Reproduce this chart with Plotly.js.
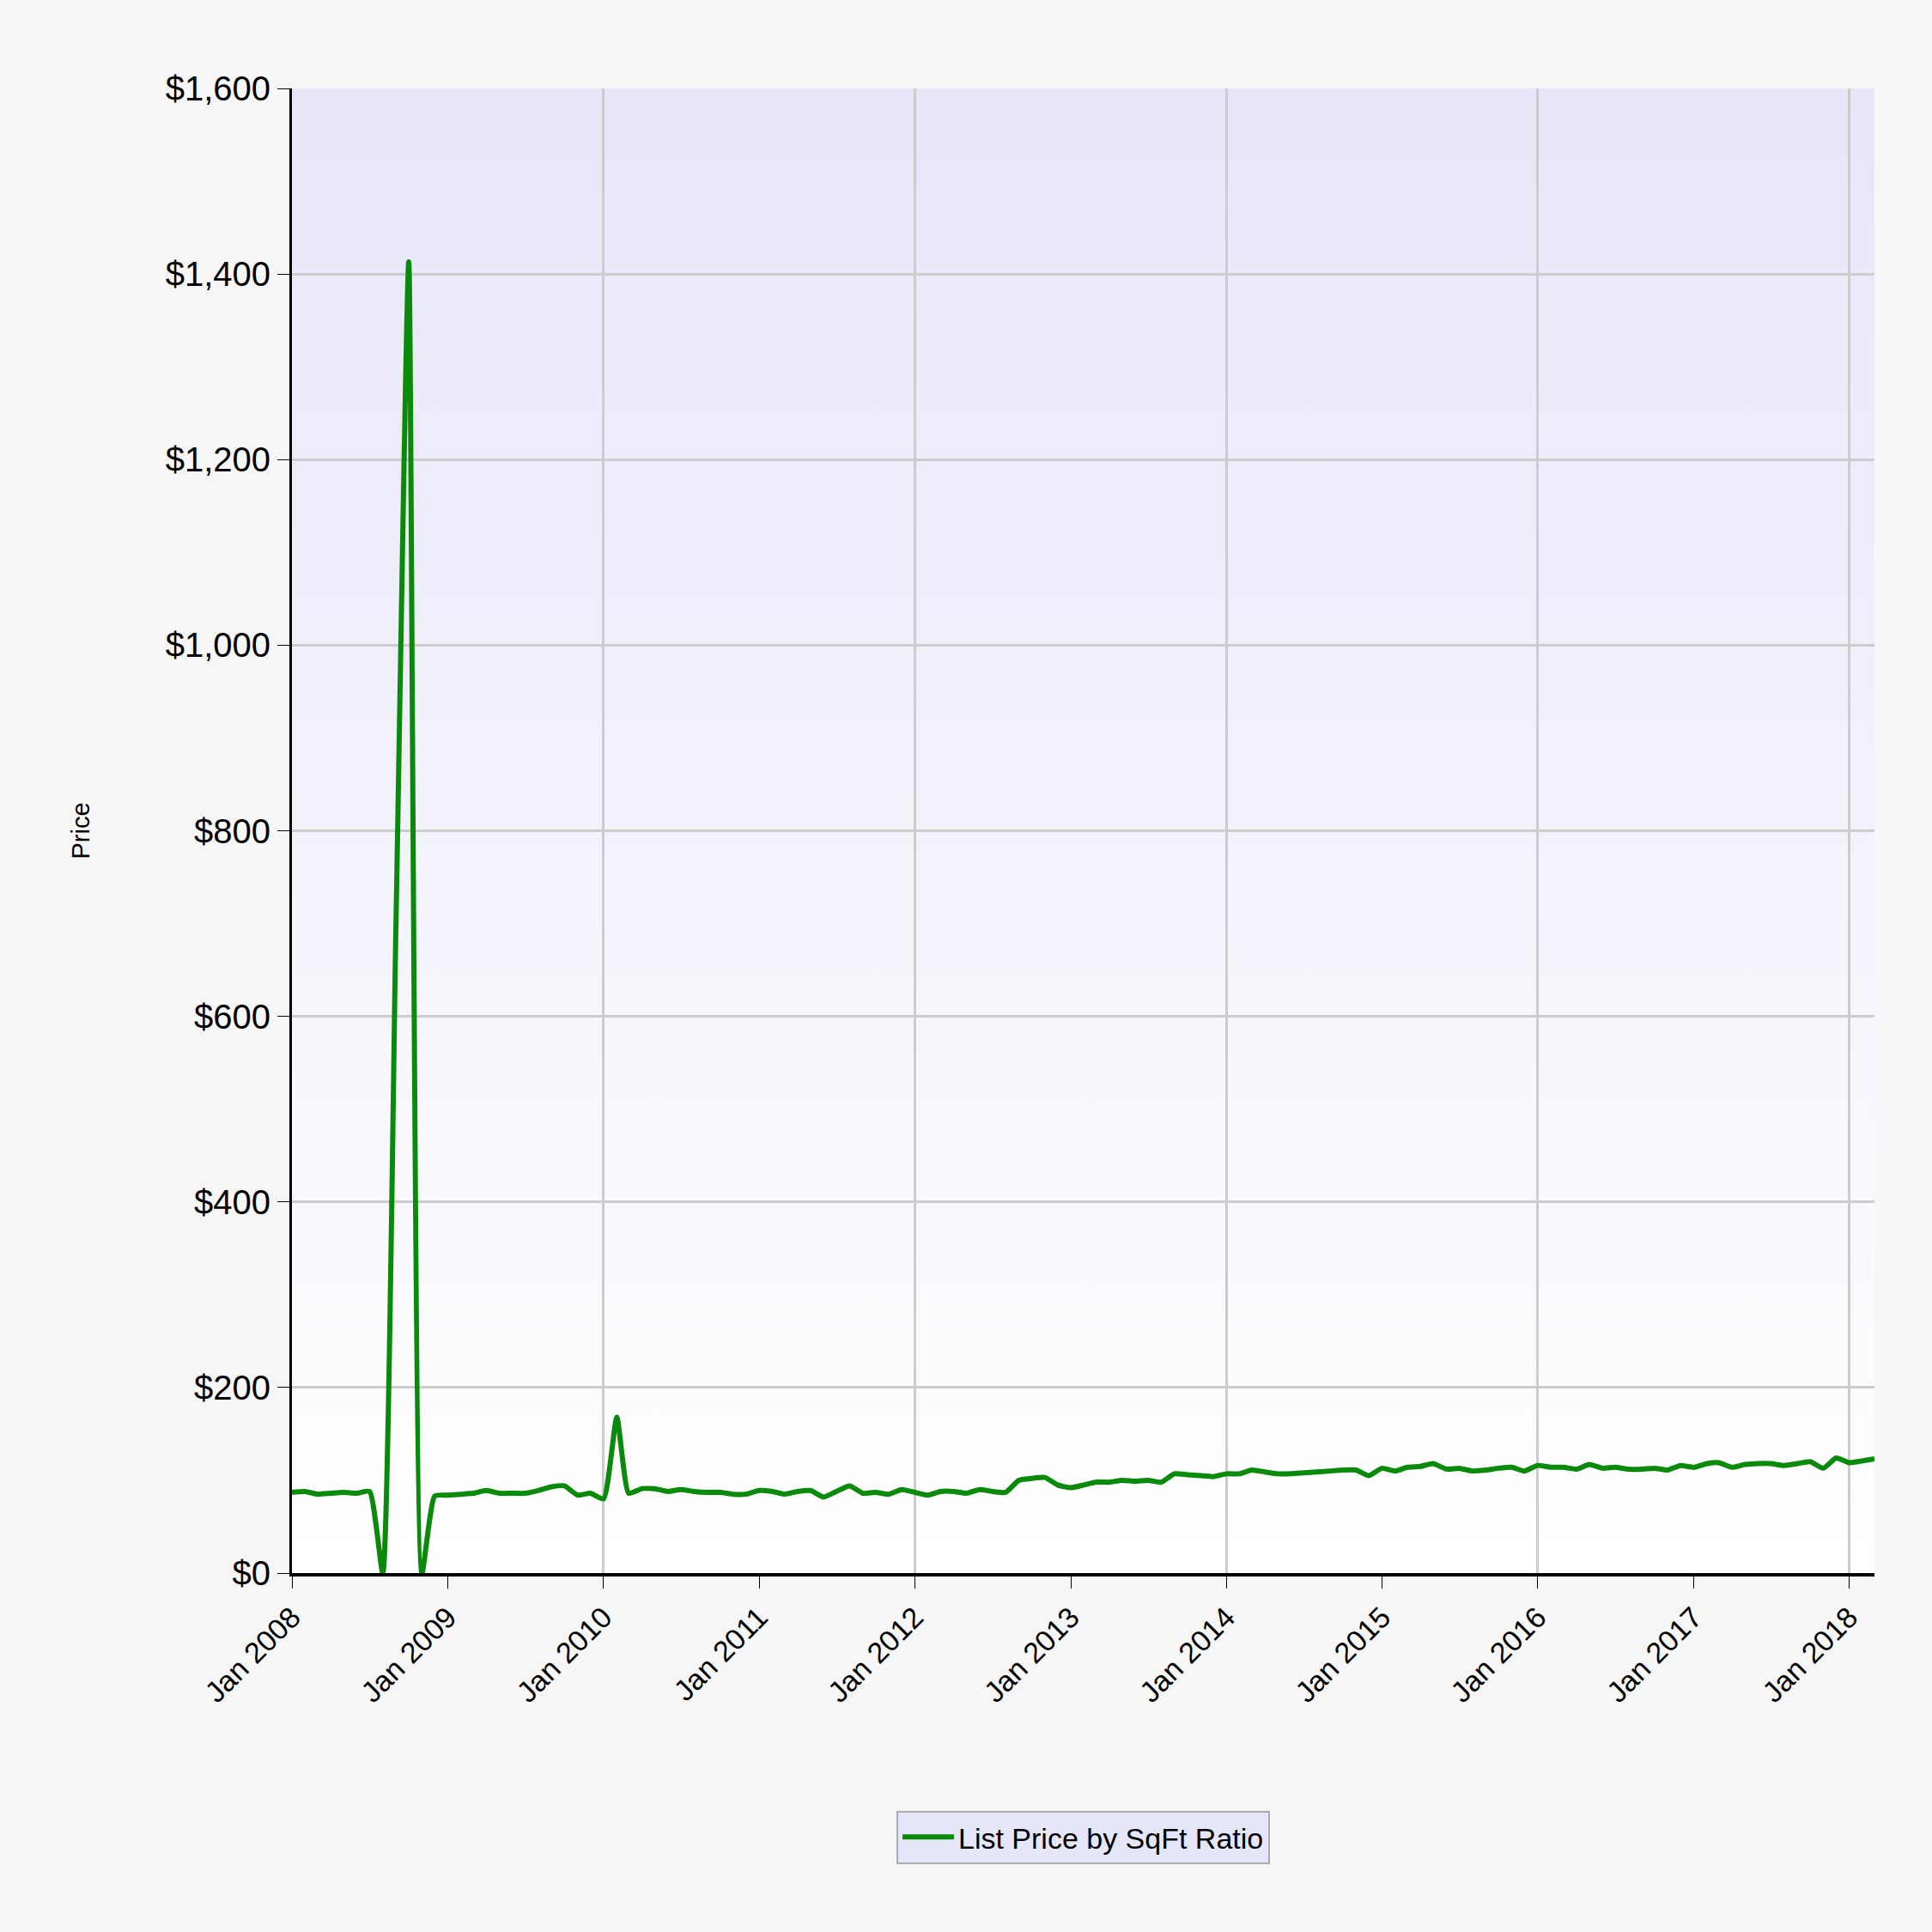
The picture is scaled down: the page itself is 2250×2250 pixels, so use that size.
<!DOCTYPE html>
<html>
<head>
<script src="https://cdn.plot.ly/plotly-3.0.1.min.js"></script>
<style>body{margin:0;background:#f4f4f4}</style>
</head>
<body>
<div id="chart" style="width:2250px;height:2250px"></div>
<script>
// Monthly list price per sqft, Jan 2008 .. Mar 2018
let startYear = 2008
let prices = [
  87, 88, 85, 86, 87, 86, 88, 0, 700, 1413, 0, 83,
  84, 85, 86, 89, 86, 86, 86, 89, 93, 94, 84, 86,
  80, 168, 86, 91, 91, 88, 90, 88, 87, 87, 85, 85,
  89, 88, 85, 88, 89, 82, 88, 94, 86, 87, 85, 90,
  87, 84, 88, 88, 86, 90, 88, 87, 100, 102, 103, 95,
  92, 95, 98, 98, 100, 99, 100, 98, 107, 106, 105, 104,
  107, 107, 111, 109, 107, 107, 108, 109, 110, 111, 111, 105,
  113, 110, 114, 115, 118, 112, 113, 110, 111, 113, 114, 110,
  116, 114, 114, 112, 117, 113, 114, 112, 112, 113, 111, 116,
  114, 118, 119, 114, 117, 118, 118, 116, 118, 120, 113, 124,
  119, 121, 123
]
let months = []
for (let i = 0; i < prices.length; i++) {
  let y = startYear + Math.floor(i / 12)
  let m = (i % 12) + 1
  months.push(y + "-" + (m < 10 ? "0" + m : m) + "-01")
}
let tickVals = []
let tickText = []
let gridVals = []
for (let y = 2008; y <= 2018; y++) {
  tickVals.push(y + "-01-01")
  tickText.push("Jan " + y)
  if (y % 2 == 0) gridVals.push(y + "-01-01")
}

let trace1 = {
  x: months,
  y: prices,
  type: "scatter",
  mode: "lines",
  name: "List Price by SqFt Ratio",
  line: {color: "#0a8a0a", width: 6, shape: "spline", smoothing: 0.5}
}
// invisible trace on the grid axis so it gets drawn
let trace2 = {
  x: ["2008-01-01"], y: [0], xaxis: "x2", type: "scatter", mode: "lines",
  showlegend: false, hoverinfo: "skip", line: {width: 0}
}

let grad = "data:image/svg+xml;utf8," + encodeURIComponent(
  '<svg xmlns="http://www.w3.org/2000/svg" width="10" height="100" preserveAspectRatio="none">' +
  '<defs><linearGradient id="g" x1="0" y1="0" x2="0" y2="1">' +
  '<stop offset="0" stop-color="#e6e6f8"/><stop offset="1" stop-color="#ffffff"/></linearGradient></defs>' +
  '<rect width="10" height="100" fill="url(#g)"/></svg>')

let range = ["2008-01-01", "2018-03-01"]
let layout = {
  width: 2250, height: 2250,
  margin: {l: 340, r: 67, t: 103, b: 418},
  paper_bgcolor: "#f6f6f6",
  plot_bgcolor: "rgba(0,0,0,0)",
  font: {family: "Liberation Sans, Arial, sans-serif", color: "#000"},
  images: [{source: grad, xref: "paper", yref: "paper", x: 0, y: 1,
    sizex: 1, sizey: 1, sizing: "stretch", layer: "below"}],
  xaxis: {
    type: "date", range: range,
    tickvals: tickVals, ticktext: tickText,
    tickangle: -45, tickfont: {size: 34},
    ticks: "outside", ticklen: 14, tickcolor: "#000",
    showgrid: false,
    showline: true, linecolor: "#000", linewidth: 4,
    zeroline: false
  },
  xaxis2: {
    type: "date", range: range, overlaying: "x",
    tickvals: gridVals, showticklabels: false, ticks: "",
    showgrid: true, gridcolor: "#cccccc", gridwidth: 3,
    showline: false, zeroline: false
  },
  yaxis: {
    range: [0, 1600], dtick: 200,
    tickprefix: "$", tickformat: ",d",
    tickfont: {size: 40},
    ticks: "outside", ticklen: 14, tickcolor: "#000",
    showgrid: true, gridcolor: "#cccccc", gridwidth: 3,
    showline: true, linecolor: "#000", linewidth: 3,
    zeroline: false,
    title: {text: "Price", font: {size: 29}, standoff: 80}
  },
  showlegend: true,
  legend: {
    orientation: "h", x: 0.5, xanchor: "center", y: -0.16, yanchor: "top",
    bgcolor: "#e6e6fa", bordercolor: "#aaaaaa", borderwidth: 2,
    font: {size: 34}, itemwidth: 60
  }
}

Plotly.newPlot("chart", [trace2, trace1], layout, {displayModeBar: false})
</script>
</body>
</html>
